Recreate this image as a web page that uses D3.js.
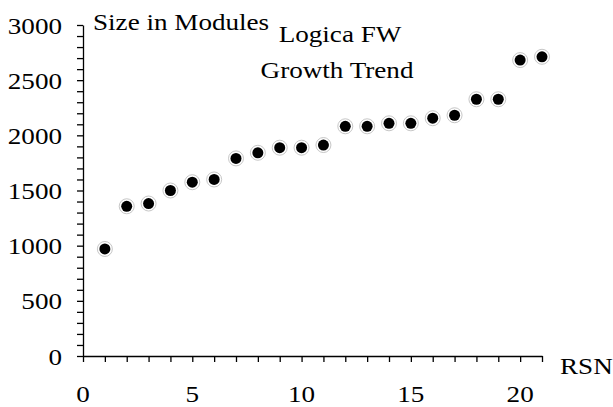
<!DOCTYPE html>
<html>
<head>
<meta charset="utf-8">
<script src="https://cdn.jsdelivr.net/npm/d3@7"></script>
<style>
  body { margin: 0; background: #fff; }
  .axis path, .axis line { stroke: #000; stroke-width: 1.3; }
</style>
</head>
<body>
<svg id="chart" width="613" height="407"></svg>
<script>
// release sequence numbers and size in modules
var rsn = [1, 2, 3, 4, 5, 6, 7, 8, 9, 10, 11, 12, 13, 14, 15, 16, 17, 18, 19, 20, 21];
var modules = [970, 1357, 1382, 1500, 1575, 1600, 1791, 1842, 1888, 1888, 1912,
               2082, 2082, 2109, 2109, 2155, 2182, 2327, 2327, 2682, 2712];
var xTicks = [0, 5, 10, 15, 20];
var yTicks = [0, 500, 1000, 1500, 2000, 2500, 3000];

var serif = "'Liberation Serif', 'Times New Roman', Times, serif";
var stretch = 1.13; // the original type is a bit wider than Liberation Serif

var svg = d3.select('#chart');
var plotLeft = 83, plotRight = 542, plotTop = 25, plotBottom = 356;

var x = d3.scaleLinear().domain([0, 21]).range([plotLeft, plotRight]);
var y = d3.scaleLinear().domain([0, 3000]).range([plotBottom, plotTop]);

// place a text at (px, py) and stretch it horizontally around that point
function put(sel, px, py) {
  sel.attr('transform', (d, i) => `translate(${px(d, i)}, ${py(d, i)}) scale(${stretch}, 1)`);
}

// minor ticks (every 1 on x, every 100 on y)
svg.append('g')
  .attr('class', 'axis')
  .attr('transform', `translate(0, ${plotBottom})`)
  .call(d3.axisBottom(x).tickValues(d3.range(0, 22, 1)).tickSize(6).tickSizeOuter(0).tickFormat(''));

svg.append('g')
  .attr('class', 'axis')
  .attr('transform', `translate(${plotLeft}, 0)`)
  .call(d3.axisLeft(y).tickValues(d3.range(0, 3001, 100)).tickSize(6).tickSizeOuter(0).tickFormat(''));

// tick labels
svg.append('g').selectAll('text')
  .data(xTicks)
  .enter().append('text')
  .call(put, d => x(d), () => 402)
  .attr('text-anchor', 'middle')
  .attr('font-family', serif)
  .attr('font-size', 24)
  .text(d => d);

svg.append('g').selectAll('text')
  .data(yTicks)
  .enter().append('text')
  .call(put, () => 62, d => y(d) + 8.5)
  .attr('text-anchor', 'end')
  .attr('font-family', serif)
  .attr('font-size', 24)
  .text(d => d);

// points: black dot with thin grey halo
var pts = svg.append('g').selectAll('g')
  .data(rsn.map((r, i) => ({r: r, v: modules[i]})))
  .enter().append('g');

pts.append('circle')
  .attr('cx', d => x(d.r))
  .attr('cy', d => y(d.v))
  .attr('r', 7.5)
  .attr('fill', '#fff')
  .attr('stroke', '#b8b8b8')
  .attr('stroke-width', 0.8);

pts.append('circle')
  .attr('cx', d => x(d.r))
  .attr('cy', d => y(d.v))
  .attr('r', 5.5)
  .attr('fill', '#000');

// labels
var labels = [
  {t: 'Size in Modules', x: 93, y: 30, a: 'start'},
  {t: 'Logica FW', x: 340, y: 42, a: 'middle'},
  {t: 'Growth Trend', x: 337, y: 78, a: 'middle'},
  {t: 'RSN', x: 560, y: 374, a: 'start'}
];
svg.append('g').selectAll('text')
  .data(labels)
  .enter().append('text')
  .call(put, d => d.x, d => d.y)
  .attr('text-anchor', d => d.a)
  .attr('font-family', serif)
  .attr('font-size', 24)
  .text(d => d.t);
</script>
</body>
</html>
